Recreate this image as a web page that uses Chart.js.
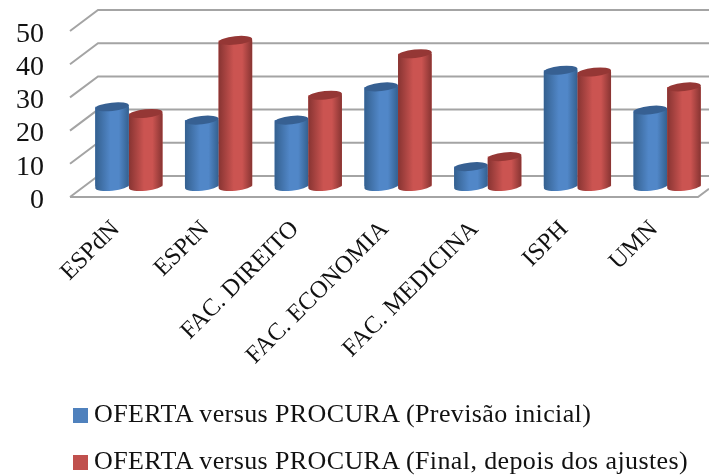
<!DOCTYPE html>
<html>
<head>
<meta charset="utf-8">
<script src="https://cdn.jsdelivr.net/npm/chart.js@4"></script>
<style>
  html, body { margin: 0; padding: 0; background: #fff; }
  #wrap { position: relative; width: 709px; height: 475px; overflow: hidden; }
  #legend div { position: absolute; left: 73px; white-space: nowrap; color: #111;
    font: 26px/30px "Liberation Serif", serif; letter-spacing: 0.39px; }
  #legend span { display: inline-block; width: 15px; height: 15px; margin-right: 6px; vertical-align: -1px; }
</style>
</head>
<body>
<div id="wrap"><canvas id="ofertaChart"></canvas><div id="legend"></div></div>
<script>
const categories = ['ESPdN', 'ESPtN', 'FAC. DIREITO', 'FAC. ECONOMIA', 'FAC. MEDICINA', 'ISPH', 'UMN'];
const previsaoInicial = [24, 20, 20, 30, 6, 35, 23];
const finalAjustes = [22, 44, 27.5, 40, 9, 34.5, 30];
const yTicks = [0, 10, 20, 30, 40, 50];

const serif = '"Liberation Serif", serif';
const DX = 28, DY = 21; // profondeur du mur du fond
const TILT = -6 * Math.PI / 180;
const RY = 4.2;

const tones = [
    { edge: '#34608f', mid: '#5187c8', cap: '#376092' },
    { edge: '#873432', mid: '#cb5451', cap: '#953735' }
];

// murs et lignes de grille en perspective
function drawWalls(chart) {
    const { ctx, scales: { y }, chartArea: a, width } = chart;
    ctx.save();
    ctx.strokeStyle = '#a4a4a4';
    ctx.lineWidth = 2;
    yTicks.forEach(v => {
        const py = y.getPixelForValue(v);
        ctx.beginPath();
        ctx.moveTo(a.left, py);
        ctx.lineTo(a.left + DX, py - DY);
        ctx.lineTo(width, py - DY);
        ctx.stroke();
    });
    const y0 = y.getPixelForValue(0);
    ctx.beginPath();
    ctx.moveTo(a.left, y0);
    ctx.lineTo(a.right, y0);
    ctx.lineTo(width, y0 - DY * (width - a.right) / DX);
    ctx.stroke();
    ctx.restore();
}

// peint chaque barre en cylindre
function drawCylinder(ctx, el, tone) {
    const { x, y, base, width } = el.getProps(['x', 'y', 'base', 'width']);
    const rx = width / 2;
    const ox = rx * Math.cos(TILT), oy = rx * Math.sin(TILT);
    const grad = ctx.createLinearGradient(x - rx, 0, x + rx, 0);
    grad.addColorStop(0, tone.edge);
    grad.addColorStop(0.45, tone.mid);
    grad.addColorStop(0.7, tone.mid);
    grad.addColorStop(1, tone.edge);
    ctx.beginPath();
    ctx.moveTo(x - ox, y - oy);
    ctx.lineTo(x - ox, base - oy);
    ctx.ellipse(x, base, rx, RY, TILT, Math.PI, 0, true);
    ctx.lineTo(x + ox, y + oy);
    ctx.closePath();
    ctx.fillStyle = grad;
    ctx.fill();
    ctx.beginPath();
    ctx.ellipse(x, y, rx, RY, TILT, 0, Math.PI * 2);
    ctx.fillStyle = tone.cap;
    ctx.fill();
}

// légende html, une ligne par série
const legendTops = [399, 446];
const htmlLegend = {
    id: 'htmlLegend',
    afterUpdate(chart) {
        const box = document.getElementById('legend');
        box.innerHTML = '';
        chart.data.datasets.forEach((ds, i) => {
            const row = document.createElement('div');
            row.style.top = legendTops[i] + 'px';
            const sw = document.createElement('span');
            sw.style.background = ds.backgroundColor;
            row.appendChild(sw);
            row.appendChild(document.createTextNode(ds.label));
            box.appendChild(row);
        });
    }
};

const perspectivePlugin = {
    id: 'perspective',
    beforeDatasetsDraw(chart) {
        drawWalls(chart);
        chart.ctx.save();
        chart.ctx.translate(DX / 2, -DY / 2);
    },
    afterDatasetsDraw(chart) {
        chart.data.datasets.forEach((ds, i) => {
            chart.getDatasetMeta(i).data.forEach(el => drawCylinder(chart.ctx, el, tones[i]));
        });
        chart.ctx.restore();
    }
};

new Chart(document.getElementById('ofertaChart').getContext('2d'), {
    type: 'bar',
    data: {
        labels: categories,
        datasets: [
            {
                label: 'OFERTA versus PROCURA (Previsão inicial)',
                data: previsaoInicial,
                backgroundColor: '#4f81bd'
            },
            {
                label: 'OFERTA versus PROCURA (Final, depois dos ajustes)',
                data: finalAjustes,
                backgroundColor: '#c0504d'
            }
        ]
    },
    options: {
        responsive: true,
        maintainAspectRatio: false,
        animation: false,
        layout: { padding: { top: 31, right: 11 } },
        datasets: { bar: { barPercentage: 1, categoryPercentage: 0.75 } },
        plugins: {
            title: { display: false },
            tooltip: { enabled: false },
            legend: { display: false }
        },
        scales: {
            x: {
                grid: { display: false },
                border: { display: false },
                afterFit: s => { s.height = 278; },
                ticks: {
                    color: '#111',
                    minRotation: 45,
                    maxRotation: 45,
                    autoSkip: false,
                    padding: 10,
                    labelOffset: 1,
                    font: { family: serif, size: 24.5 }
                }
            },
            y: {
                min: 0,
                max: 50,
                grid: { display: false },
                border: { display: false },
                afterFit: s => { s.width = 70; },
                afterBuildTicks: s => { s.ticks = yTicks.map(v => ({ value: v })); },
                ticks: {
                    color: '#111',
                    padding: 18,
                    autoSkip: false,
                    labelOffset: 3.5,
                    font: { family: serif, size: 28, lineHeight: 0.9 }
                }
            }
        }
    },
    plugins: [perspectivePlugin, htmlLegend]
});
</script>
</body>
</html>
